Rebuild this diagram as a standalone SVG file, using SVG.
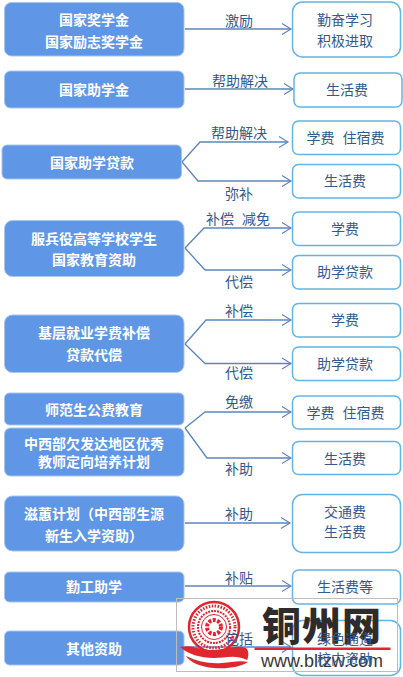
<svg xmlns="http://www.w3.org/2000/svg" width="403" height="677" viewBox="0 0 403 677">
<defs>
<style>
text{font-family:"Noto Sans CJK SC","Liberation Sans",sans-serif;font-size:14px;text-anchor:middle}
.l rect{fill:#5f96e6;stroke:#a9c5ee;stroke-width:1}
.l text{fill:#fff;font-weight:700}
.r rect{fill:#fff;stroke:#62b5e6;stroke-width:1.5}
.r text,.t text{fill:#33598f}
.c path{fill:none;stroke:#5c85bd;stroke-width:1.3;marker-end:url(#a)}
</style>
<marker id="a" markerUnits="userSpaceOnUse" markerWidth="12" markerHeight="14" refX="10" refY="7" orient="auto"><path d="M1 1.500L10 7L1 12.500" fill="none" stroke="#5c85bd" stroke-width="1.100"/></marker>
</defs>
<rect width="403" height="677" fill="#fff"/>
<g id="connectors" class="c">
<path d="M185 29H291"/>
<path d="M185 89H293"/>
<path d="M182 162L200 142H288"/>
<path d="M182 162L198 181H291"/>
<path d="M185 248L204 228H291"/>
<path d="M185 248L205 270H291"/>
<path d="M185 344L206 320H291"/>
<path d="M185 344L205 363.500H291"/>
<path d="M185 428L205 412H291"/>
<path d="M185 428L207 458H291"/>
<path d="M185 523H290"/>
<path d="M185 586H291"/>
<path d="M185 647H291"/>
</g>
<g id="labels" class="t">
<text x="239" y="26">激励</text>
<text x="240" y="86">帮助解决</text>
<text x="239" y="138">帮助解决</text>
<text x="239" y="199">弥补</text>
<text x="238" y="224">补偿<tspan dx="8">减免</tspan></text>
<text x="239" y="287">代偿</text>
<text x="239" y="316">补偿</text>
<text x="239" y="378">代偿</text>
<text x="239" y="407">免缴</text>
<text x="239" y="474">补助</text>
<text x="239" y="519">补助</text>
<text x="239" y="583">补贴</text>
</g>
<g id="n1" class="l"><rect x="4.500" y="2.500" width="179.500" height="53.500" rx="7"/><text x="94" y="25">国家奖学金</text><text x="94" y="47">国家励志奖学金</text></g>
<g id="n2" class="l"><rect x="4.500" y="71" width="179.500" height="37" rx="6"/><text x="94" y="95">国家助学金</text></g>
<g id="n3" class="l"><rect x="2" y="145" width="179.500" height="34" rx="5"/><text x="92" y="168">国家助学贷款</text></g>
<g id="n4" class="l"><rect x="4.500" y="220.500" width="179.500" height="56" rx="8"/><text x="94" y="244">服兵役高等学校学生</text><text x="94" y="265">国家教育资助</text></g>
<g id="n5" class="l"><rect x="4.500" y="315" width="179.500" height="57.500" rx="8"/><text x="94" y="338">基层就业学费补偿</text><text x="94" y="360">贷款代偿</text></g>
<g id="n6" class="l"><rect x="4.500" y="393" width="179.500" height="32" rx="5"/><text x="94" y="415">师范生公费教育</text></g>
<g id="n7" class="l"><rect x="4.500" y="428" width="179.500" height="48" rx="6"/><text x="94" y="449">中西部欠发达地区优秀</text><text x="94" y="467">教师定向培养计划</text></g>
<g id="n8" class="l"><rect x="4.500" y="496" width="179.500" height="55" rx="8"/><text x="94" y="519">滋蕙计划（中西部生源</text><text x="94" y="541">新生入学资助）</text></g>
<g id="n9" class="l"><rect x="4.500" y="572" width="179.500" height="30" rx="5"/><text x="94" y="592">勤工助学</text></g>
<g id="n10" class="l"><rect x="4.500" y="631" width="179.500" height="34" rx="5"/><text x="94" y="654">其他资助</text></g>
<g id="m1" class="r"><rect x="292.500" y="2" width="108" height="55" rx="10"/><text x="345" y="25">勤奋学习</text><text x="345" y="46">积极进取</text></g>
<g id="m2" class="r"><rect x="294" y="73" width="108" height="34" rx="6"/><text x="347" y="95">生活费</text></g>
<g id="m3" class="r"><rect x="292.500" y="121" width="108" height="33.500" rx="6"/><text x="345.500" y="143">学费<tspan dx="8">住宿费</tspan></text></g>
<g id="m4" class="r"><rect x="292.500" y="164.500" width="108" height="33.500" rx="6"/><text x="345" y="186">生活费</text></g>
<g id="m5" class="r"><rect x="292.500" y="212" width="108" height="33.500" rx="6"/><text x="345" y="234">学费</text></g>
<g id="m6" class="r"><rect x="292.500" y="255.500" width="108" height="33.500" rx="6"/><text x="345" y="277">助学贷款</text></g>
<g id="m7" class="r"><rect x="292.500" y="303.500" width="108" height="33.500" rx="6"/><text x="345" y="325">学费</text></g>
<g id="m8" class="r"><rect x="292.500" y="347" width="108" height="33.500" rx="6"/><text x="345" y="369">助学贷款</text></g>
<g id="m9" class="r"><rect x="292.500" y="396" width="108" height="33" rx="6"/><text x="345.500" y="418">学费<tspan dx="8">住宿费</tspan></text></g>
<g id="m10" class="r"><rect x="292.500" y="441.500" width="108" height="33" rx="6"/><text x="345" y="464">生活费</text></g>
<g id="m11" class="r"><rect x="292.500" y="494.500" width="108" height="58" rx="10"/><text x="345" y="517">交通费</text><text x="345" y="537">生活费</text></g>
<g id="m12" class="r"><rect x="292.500" y="570" width="108" height="34" rx="6"/><text x="345" y="592">生活费等</text></g>
<g id="m13" class="r"><rect x="292.500" y="620.500" width="108" height="55" rx="10"/></g>
<g id="watermark">
<rect x="176.500" y="598.500" width="221" height="73" fill="none" stroke="#bdbdbd" stroke-width="1"/>
<circle cx="214" cy="627" r="25" fill="none" stroke="#e0262e" stroke-width="2.500"/>
<circle cx="214" cy="627" r="21" fill="none" stroke="#e0262e" stroke-width="3" stroke-dasharray="1.500 1.500"/>
<circle cx="214" cy="627" r="16" fill="none" stroke="#e0262e" stroke-width="2" stroke-dasharray="2 1"/>
<circle cx="214" cy="627" r="12.500" fill="none" stroke="#e0262e" stroke-width="1"/>
<circle cx="214" cy="627" r="7" fill="none" stroke="#e0262e" stroke-width="4" stroke-dasharray="3 1.500"/>
<path d="M180 647C190 644 200 650 212 650C224 650 236 644 246 648C249 651 249 656 247 660C236 654 224 658 214 658C200 658 188 654 180 647Z" fill="#e0262e"/>
<path d="M186 656C198 662 210 664 222 663C232 662 240 660 248 662C240 667 228 669 214 668C200 667 190 662 186 656Z" fill="#e0262e"/>
<text x="322" y="640" fill="#2f2b2b" style="font-size:39px;font-weight:900;letter-spacing:1px">铜州网</text>
<text x="322" y="667" fill="#3a3636" style="font-family:'Liberation Sans',sans-serif;font-size:18px">www.bltzw.com</text>
</g>
<g id="labels-top" class="t r">
<text x="239" y="644">包括</text>
<text x="345" y="644">绿色通道</text><text x="345" y="664">校内资助</text>
</g>
<rect x="254.500" y="647.500" width="136" height="2.500" fill="#e0262e"/>
</svg>
